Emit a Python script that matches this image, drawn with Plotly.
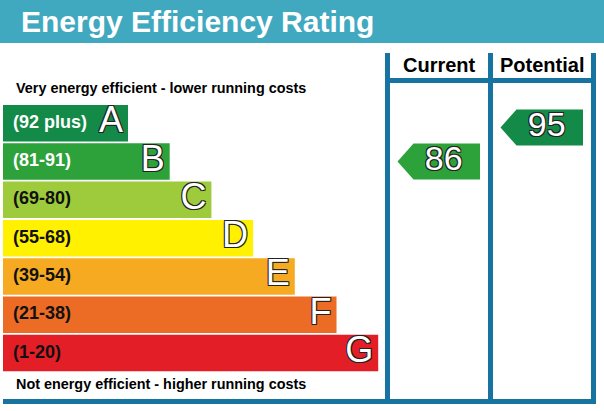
import plotly.graph_objects as go

W, H = 604, 411

# rating bands, best to worst
bands = ["A", "B", "C", "D", "E", "F", "G"]
band_ranges = ["(92 plus)", "(81-91)", "(69-80)", "(55-68)", "(39-54)", "(21-38)", "(1-20)"]
band_lows = [92, 81, 69, 55, 39, 21, 1]
band_highs = [100, 91, 80, 68, 54, 38, 20]
band_colors = ["#138a48", "#2ea23a", "#9dcb3c", "#fff100", "#f6aa21", "#ec6b25", "#e31e26"]
label_colors = ["white", "white", "#111111", "#111111", "#111111", "#111111", "#111111"]

current = 86
potential = 95

TITLE_BG = "#41a9bf"
LINE_COLOR = "#17739f"
FONT = "Liberation Sans, Arial, sans-serif"
OUTLINE = "-1px -1px 0 #222, 1px -1px 0 #222, -1px 1px 0 #222, 1px 1px 0 #222"

# layout geometry, in pixels (axes are mapped 1:1 to the page)
BAR_X0 = 3
BAR_TOP = 105
PITCH = 38.3
BAR_H = 36.5
BAR_LEN0 = 125
BAR_STEP = 41.7
COL_L, COL_M, COL_R = 387.5, 490.5, 593.5
LINE_W = 5


def band_index(score):
    for i, lo in enumerate(band_lows):
        if score >= lo:
            return i
    return len(bands) - 1


centers = [BAR_TOP + BAR_H / 2 + PITCH * i for i in range(len(bands))]
lengths = [BAR_LEN0 + BAR_STEP * i for i in range(len(bands))]


def score_y(score):
    # arrows sit inside their band, nudged by where the score falls in it
    i = band_index(score)
    lo, hi = band_lows[i], band_highs[i]
    frac = (hi + 0.5 - score) / (hi - lo + 1) - 0.5
    return centers[i] + frac * PITCH


fig = go.Figure()

# coloured bands
fig.add_trace(go.Bar(
    x=lengths, y=centers, base=BAR_X0, orientation="h", width=BAR_H,
    marker=dict(color=band_colors, line=dict(width=0)),
))

# score ranges inside the bands
fig.add_trace(go.Scatter(
    x=[13] * len(bands), y=centers, mode="text", text=band_ranges,
    textposition="middle right",
    textfont=dict(family=FONT, size=18, color=label_colors, weight="bold"),
))

# band letters at the end of each bar
fig.add_trace(go.Scatter(
    x=[BAR_X0 + l - 5 for l in lengths], y=centers, mode="text", text=bands,
    textposition="middle left",
    textfont=dict(family=FONT, size=36, color="white", shadow=OUTLINE),
))

# current / potential arrows
for value, left, right in [(current, COL_L, COL_M), (potential, COL_M, COL_R)]:
    i = band_index(value)
    yc = score_y(value)
    tip = left + LINE_W / 2 + 7.5
    shoulder = tip + 16
    end = right - LINE_W / 2 - 8
    half = 18
    fig.add_trace(go.Scatter(
        x=[tip, shoulder, end, end, shoulder, tip],
        y=[yc, yc - half, yc - half, yc + half, yc + half, yc],
        mode="lines", fill="toself", fillcolor=band_colors[i],
        line=dict(width=0, color=band_colors[i]),
    ))
    fig.add_trace(go.Scatter(
        x=[(shoulder + end) / 2 - 3], y=[yc], mode="text", text=[str(value)],
        textposition="middle center",
        textfont=dict(family=FONT, size=34, color="white", shadow=OUTLINE),
    ))

shapes = [
    dict(type="rect", x0=0, x1=W, y0=0, y1=43, fillcolor=TITLE_BG,
         line=dict(width=0), layer="below"),
    dict(type="line", x0=COL_L - 2.5, x1=COL_R + 2.5, y0=80.5, y1=80.5,
         line=dict(color=LINE_COLOR, width=LINE_W)),
    dict(type="line", x0=BAR_X0, x1=COL_R + 2.5, y0=401.5, y1=401.5,
         line=dict(color=LINE_COLOR, width=LINE_W)),
]
for cx in (COL_L, COL_M, COL_R):
    shapes.append(dict(type="line", x0=cx, x1=cx, y0=53, y1=404,
                       line=dict(color=LINE_COLOR, width=LINE_W)))

annotations = [
    dict(x=19, y=21, text="Energy Efficiency Rating", xanchor="left", yanchor="middle",
         font=dict(family=FONT, size=30, color="white", weight="bold")),
    dict(x=14, y=88, text="Very energy efficient - lower running costs",
         xanchor="left", yanchor="middle",
         font=dict(family=FONT, size=14.4, color="black", weight="bold")),
    dict(x=14, y=384, text="Not energy efficient - higher running costs",
         xanchor="left", yanchor="middle",
         font=dict(family=FONT, size=14.4, color="black", weight="bold")),
    dict(x=(COL_L + COL_M) / 2, y=65, text="Current", xanchor="center", yanchor="middle",
         font=dict(family=FONT, size=20, color="black", weight="bold")),
    dict(x=(COL_M + COL_R) / 2, y=65, text="Potential", xanchor="center", yanchor="middle",
         font=dict(family=FONT, size=20, color="black", weight="bold")),
]
for a in annotations:
    a.update(xref="x", yref="y", showarrow=False)

fig.update_layout(
    width=W, height=H,
    margin=dict(l=0, r=0, t=0, b=0),
    paper_bgcolor="white", plot_bgcolor="white",
    showlegend=False, hovermode=False,
    xaxis=dict(range=[0, W], visible=False, fixedrange=True),
    yaxis=dict(range=[H, 0], visible=False, fixedrange=True),
    shapes=shapes, annotations=annotations,
)

# drop the browser's default body margin so the figure fills the window
fig.write_html(
    "out.html",
    config={"displayModeBar": False, "staticPlot": True},
    post_script="document.body.style.margin = '0';",
)
